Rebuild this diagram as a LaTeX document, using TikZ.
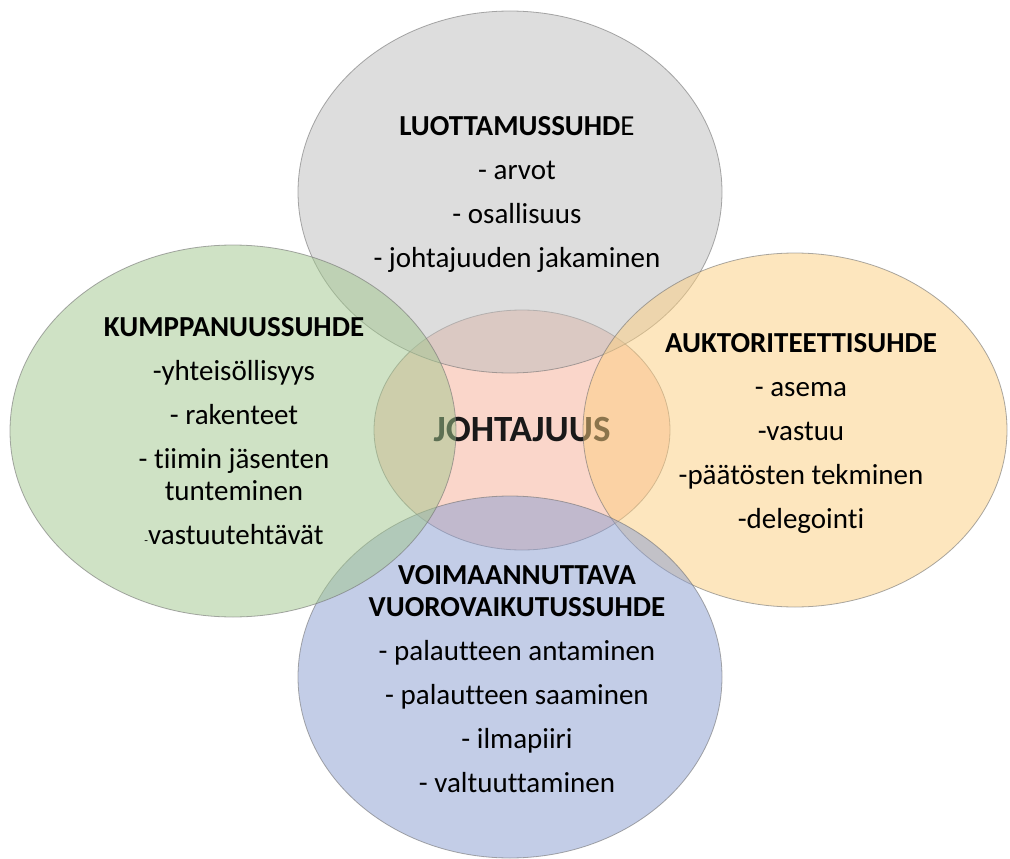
\documentclass[tikz,border=0pt]{standalone}
\usepackage{fontspec}
\setmainfont[Ligatures=NoCommon]{Carlito}
\definecolor{pinkc}{RGB}{250,214,202}
\definecolor{grayc}{RGB}{189,189,189}
\definecolor{greenc}{RGB}{161,199,141}
\definecolor{orangec}{RGB}{253,207,127}
\definecolor{bluec}{RGB}{137,157,209}
\begin{document}
\begin{tikzpicture}[x=1pt,y=-1pt,
  ring/.style={draw=black!55, line width=0.8pt, draw opacity=0.6},
  venn/.style={ring, fill=#1, fill opacity=0.5},
  body/.style={align=center, font=\fontsize{29}{32}\selectfont, text=black, inner sep=0pt},
  core/.style={font=\bfseries\fontsize{37}{37}\selectfont, text=black!90, inner sep=0pt}]
\useasboundingbox (0,0) rectangle (1010,859);
\fill[white] (0,0) rectangle (1010,859);
% centre circle and its text (under the others)
\path[ring, fill=pinkc] (522,430) ellipse [x radius=148, y radius=120];
\node[core] (lead) at (522,430) {JOHTAJUUS};
% the four relations
\path[venn=grayc]   (510,192) ellipse [x radius=212, y radius=181];
\path[venn=orangec] (795,430) ellipse [x radius=212, y radius=177];
\path[venn=bluec]   (510,677) ellipse [x radius=212, y radius=181];
\path[venn=greenc]  (233,431) ellipse [x radius=223, y radius=186];
% texts
\node[body] (trust) at (517,194) {{\bfseries LUOTTAMUSSUHD}E\\[12pt]- arvot\\[12pt]- osallisuus\\[12pt]- johtajuuden jakaminen};
\node[body] (partner) at (234,431) {\textbf{KUMPPANUUSSUHDE}\\[12pt]-yhteisöllisyys\\[12pt]- rakenteet\\[12pt]- tiimin jäsenten\\tunteminen\\[12pt]{\fontsize{12}{12}\selectfont -}vastuutehtävät};
\node[body] (authority) at (801,433) {\textbf{AUKTORITEETTISUHDE}\\[12pt]- asema\\[12pt]-vastuu\\[12pt]-päätösten tekminen\\[12pt]-delegointi};
\node[body] (interact) at (517,679) {\textbf{VOIMAANNUTTAVA}\\\textbf{VUOROVAIKUTUSSUHDE}\\[12pt]- palautteen antaminen\\[12pt]- palautteen saaminen\\[12pt]- ilmapiiri\\[12pt]- valtuuttaminen};
\end{tikzpicture}
\end{document}
